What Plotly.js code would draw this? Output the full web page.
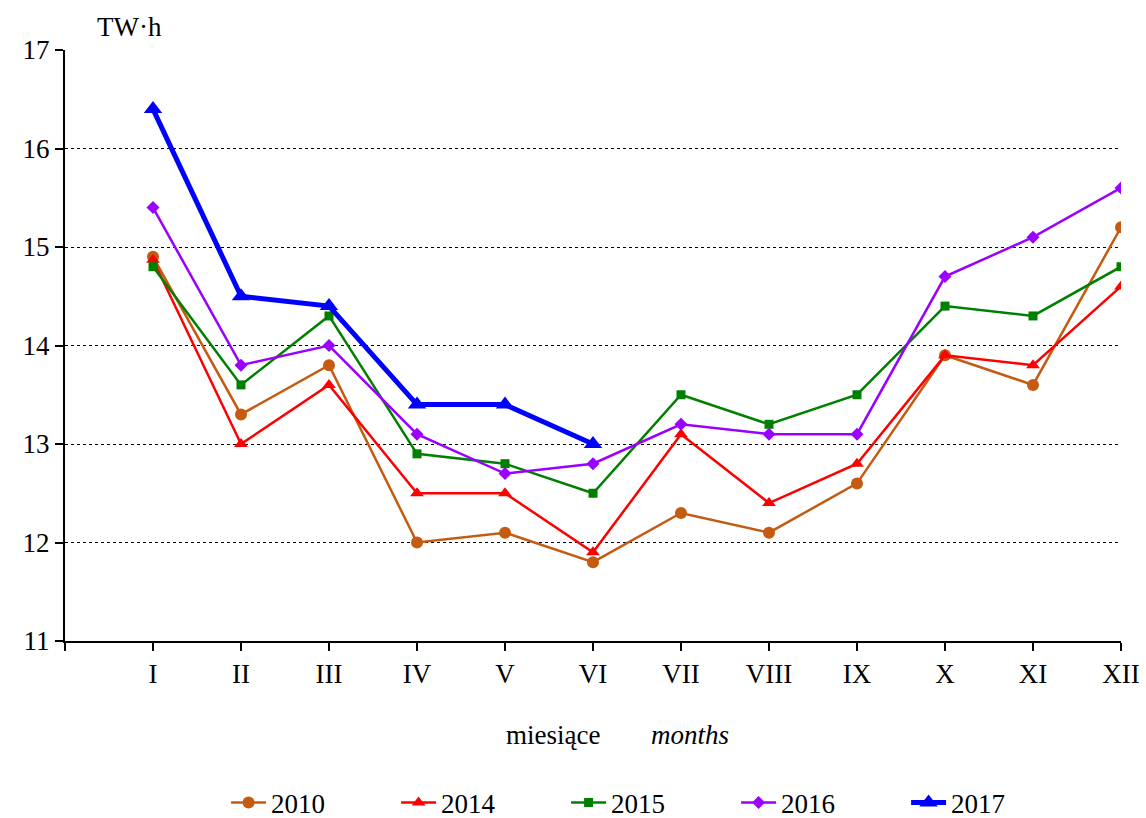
<!DOCTYPE html>
<html><head><meta charset="utf-8">
<script src="https://cdn.plot.ly/plotly-3.0.1.min.js"></script>
<style>body{margin:0;background:#fff}#chart{width:1146px;height:818px}</style>
</head><body><div id="chart"></div>
<script>
const months = ['I','II','III','IV','V','VI','VII','VIII','IX','X','XI','XII'];
const y2010 = [14.9,13.3,13.8,12.0,12.1,11.8,12.3,12.1,12.6,13.9,13.6,15.2];
const y2014 = [14.87,13.0,13.6,12.5,12.5,11.9,13.1,12.4,12.8,13.9,13.8,14.6];
const y2015 = [14.8,13.6,14.3,12.9,12.8,12.5,13.5,13.2,13.5,14.4,14.3,14.8];
const y2016 = [15.4,13.8,14.0,13.1,12.7,12.8,13.2,13.1,13.1,14.7,15.1,15.6];
const y2017 = [16.4,14.5,14.4,13.4,13.4,13.0];
const yTicks = [11,12,13,14,15,16,17];

const xpos = months.map((m,i)=>i+1);
function tr(name, ys, color, symbol, size, width){
  return {x: xpos.slice(0, ys.length), y: ys, name: name, type:'scatter', mode:'lines+markers',
    line:{color:color, width:width}, marker:{color:color, symbol:symbol, size:size}};
}
const data = [
  tr('2010', y2010, '#C55A11', 'circle', 12, 2.5),
  tr('2014', y2014, '#FF0000', 'triangle-up', 12, 2.5),
  tr('2015', y2015, '#008000', 'square', 9, 2.5),
  tr('2016', y2016, '#9900FF', 'diamond', 10, 2.5),
  tr('2017', y2017, '#0000FF', 'triangle-up', 16, 5)
];
const FAM = '"Liberation Serif", "Times New Roman", serif';
const FS = 27;
const layout = {
  width:1146, height:818,
  margin:{l:65, r:25, t:50, b:177, autoexpand:false},
  paper_bgcolor:'#fff', plot_bgcolor:'#fff',
  font:{family:FAM, size:FS, color:'#000'},
  showlegend:true,
  legend:{orientation:'h', x:0.555, xanchor:'center', y:-0.274, yanchor:'middle',
    font:{family:FAM, size:FS, color:'#000'}, entrywidth:120, itemwidth:35,
    traceorder:'normal'},
  xaxis:{range:[0,12], tickmode:'array', tickvals:[0].concat(xpos), ticktext:[''].concat(months),
    showgrid:false, zeroline:false, showline:true, linecolor:'#000', linewidth:2,
    ticks:'outside', ticklen:8, tickwidth:2, tickcolor:'#000',
    tickfont:{family:FAM, size:FS, color:'#000'}, fixedrange:true},
  yaxis:{range:[11,17], tickmode:'array', tickvals:yTicks,
    showgrid:true, gridcolor:'#000', griddash:'dot', gridwidth:1, zeroline:false,
    showline:true, linecolor:'#000', linewidth:2,
    ticks:'outside', ticklen:8, tickwidth:2, tickcolor:'#000',
    tickfont:{family:FAM, size:FS, color:'#000'}, fixedrange:true},
  annotations:[
    {text:'TW·h', xref:'paper', yref:'paper', x:30/1056, y:1, xanchor:'left', yanchor:'bottom', yshift:6,
      showarrow:false, font:{family:FAM, size:FS, color:'#000'}},
    {text:'miesiące', xref:'paper', yref:'paper', x:(553-65)/1056, y:(641-735)/591, xanchor:'center', yanchor:'middle',
      showarrow:false, font:{family:FAM, size:FS, color:'#000'}},
    {text:'<i>months</i>', xref:'paper', yref:'paper', x:(690-65)/1056, y:(641-735)/591, xanchor:'center', yanchor:'middle',
      showarrow:false, font:{family:FAM, size:FS, color:'#000'}}
  ]
};
Plotly.newPlot('chart', data, layout, {displayModeBar:false, staticPlot:true});
</script></body></html>
